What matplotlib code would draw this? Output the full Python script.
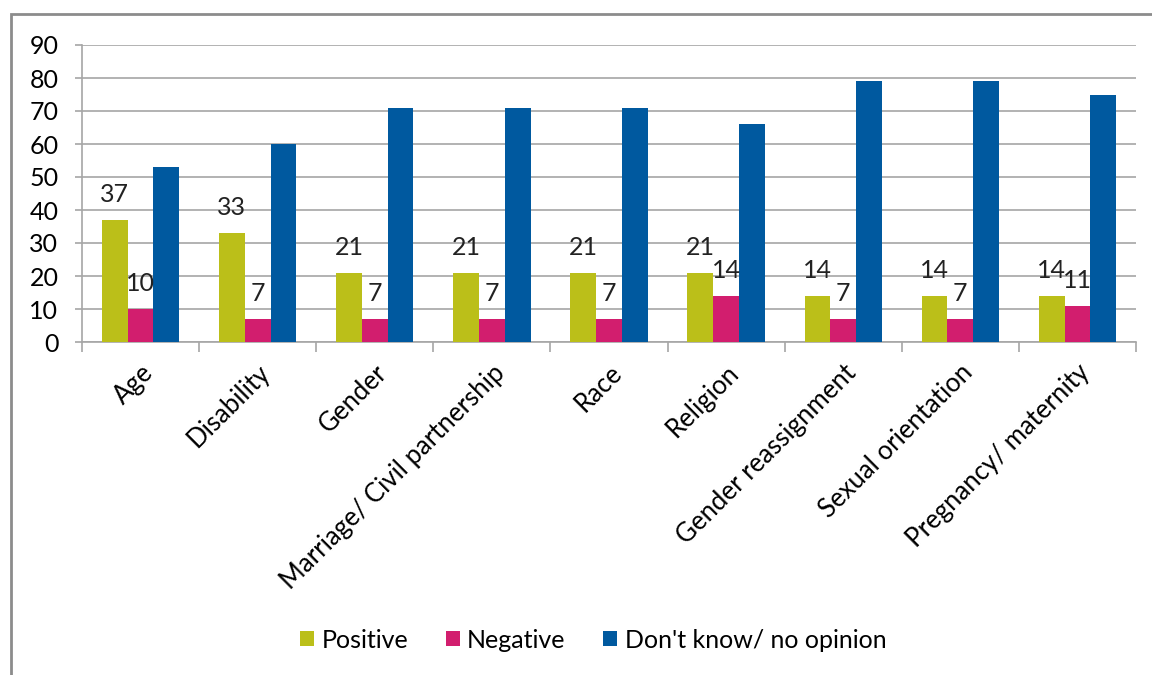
import matplotlib
matplotlib.use("Agg")
import matplotlib.pyplot as plt
from matplotlib.patches import Rectangle
import numpy as np

categories = ["Age", "Disability", "Gender", "Marriage/ Civil partnership", "Race",
              "Religion", "Gender reassignment", "Sexual orientation", "Pregnancy/ maternity"]
positive = [37, 33, 21, 21, 21, 21, 14, 14, 14]
negative = [10, 7, 7, 7, 7, 14, 7, 7, 11]
dont_know = [53, 60, 71, 71, 71, 66, 79, 79, 75]
series_names = ["Positive", "Negative", "Don't know/ no opinion"]
colors = ["#BBBF19", "#D21E6E", "#00599F"]

plt.rcParams["font.family"] = ["Lato", "DejaVu Sans"]

fig = plt.figure(figsize=(11.52, 6.75), dpi=100)
ax = fig.add_axes([82 / 1152, 1 - 342 / 675, (1136 - 82) / 1152, (342 - 45) / 675])

x = np.arange(len(categories))
w = 0.22
bars = []
for i, (vals, name, c) in enumerate(zip([positive, negative, dont_know], series_names, colors)):
    b = ax.bar(x + (i - 1) * w, vals, width=w, color=c, label=name, zorder=3)
    bars.append(b)

# value labels only for positive and negative
for b in bars[:2]:
    for rect in b:
        h = rect.get_height()
        ax.annotate(f"{h:g}", (rect.get_x() + rect.get_width() / 2, h),
                    xytext=(0, 13), textcoords="offset points",
                    ha="center", va="baseline", fontsize=18, color="#222222", zorder=4)

ax.set_xlim(-0.5, len(categories) - 0.5)
ax.set_ylim(0, 90)
ax.set_yticks(range(0, 91, 10))
ax.yaxis.grid(True, color="#A6A6A6", linewidth=1.2, zorder=0)
ax.set_axisbelow(True)

ax.set_xticks(x)
ax.set_xticklabels(categories, rotation=45, ha="right", rotation_mode="anchor", fontsize=18.5)
ax.set_xticks(np.arange(-0.5, len(categories)), minor=True)
ax.tick_params(axis="x", which="major", length=0, pad=13)
ax.tick_params(axis="x", which="minor", length=7, color="#A6A6A6", width=1.2)
ax.tick_params(axis="y", length=5, color="#A6A6A6", width=1.2, pad=12, labelsize=18)

for s in ["top", "right"]:
    ax.spines[s].set_visible(False)
for s in ["left", "bottom"]:
    ax.spines[s].set_color("#A6A6A6")
    ax.spines[s].set_linewidth(1.2)

fig.legend(loc="center", bbox_to_anchor=(593 / 1152, 1 - 640 / 675), ncol=3, frameon=False,
           fontsize=18, handlelength=0.56, handleheight=0.56, handletextpad=0.3,
           columnspacing=1.5)

# outer chart border
fig.add_artist(Rectangle((11 / 1152, -0.1), 1.2, 1.1 - 14 / 675, transform=fig.transFigure,
                         fill=False, edgecolor="#8C8C8C", linewidth=2))

fig.savefig("out.png", dpi=100)
